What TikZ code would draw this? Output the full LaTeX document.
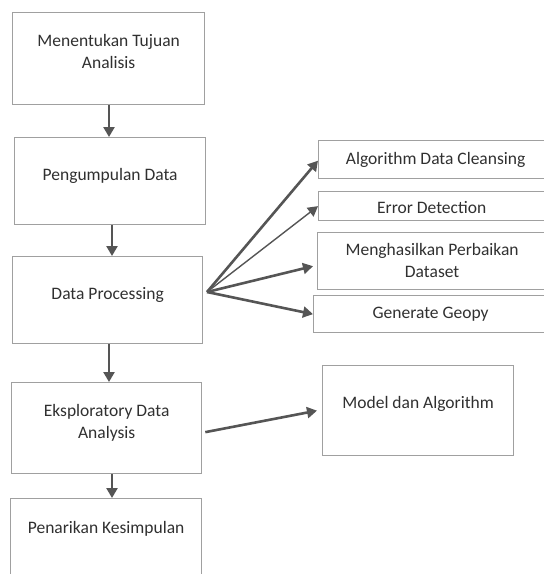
\documentclass[tikz,border=0pt]{standalone}
\usepackage{fontspec}
\setmainfont{Carlito}
\usetikzlibrary{arrows.meta}

\definecolor{boxgray}{HTML}{A0A0A0}
\definecolor{arrowgray}{HTML}{555555}
\definecolor{textgray}{HTML}{303030}

\begin{document}
\begin{tikzpicture}[x=1pt,y=-1pt,
	box/.style={draw=boxgray, line width=1.3pt, inner sep=0pt, align=center, anchor=north west, text=textgray, font=\fontsize{17.5}{22}\selectfont},
	flow/.style={-{Triangle[length=10pt,width=11pt]}, draw=arrowgray, fill=arrowgray, line width=2.6pt}]
	\useasboundingbox (0,0) rectangle (544,574);

	\node[box, minimum width=192pt, text height=56pt, text depth=36pt] (goal) at (12,12) {Menentukan Tujuan\\Analisis};
	\node[box, minimum width=191pt, text height=43pt, text depth=44pt] (collect) at (14,137) {Pengumpulan Data};
	\node[box, minimum width=190pt, text height=43pt, text depth=44pt] (proc) at (12,256) {Data Processing};
	\node[box, minimum width=190pt, text height=56pt, text depth=35pt] (eda) at (11,382) {Eksploratory Data\\Analysis};
	\node[box, minimum width=191pt, text height=35pt, text depth=60pt] (concl) at (10,498) {Penarikan Kesimpulan};

	\node[box, minimum width=234pt, text height=24pt, text depth=14pt] (clean) at (318,140) {Algorithm Data Cleansing};
	\node[box, minimum width=226pt, text height=22pt, text depth=7pt] (error) at (318,191) {Error Detection};
	\node[box, minimum width=229pt, text height=45pt, text depth=12pt] (repair) at (317,232) {Menghasilkan Perbaikan\\Dataset};
	\node[box, minimum width=234pt, text height=23pt, text depth=14pt] (geopy) at (313,295) {Generate Geopy};
	\node[box, minimum width=191pt, text height=43pt, text depth=47pt] (model) at (322,365) {Model dan Algorithm};

	% alur utama
	\draw [flow] (goal.south -| 109,0) -- (collect.north -| 109,0);
	\draw [flow] (collect.south -| 112,0) -- (proc.north -| 112,0);
	\draw [flow] (proc.south -| 109,0) -- (eda.north -| 109,0);
	\draw [flow] (eda.south -| 112,0) -- (concl.north -| 112,0);

	% cabang dari data processing
	\coordinate (fan) at (207,292);
	\draw [flow] (fan) -- ([yshift=-1pt]clean.west);
	\draw [flow, line width=1.4pt] (fan) -- (error.west);
	\draw [flow] (fan) -- ([xshift=-4pt,yshift=-5pt]repair.west);
	\draw [flow] (fan) -- (geopy.west);

	\draw [flow] ([xshift=3pt,yshift=-4pt]eda.east) -- ([xshift=-5pt]model.west);
\end{tikzpicture}
\end{document}
